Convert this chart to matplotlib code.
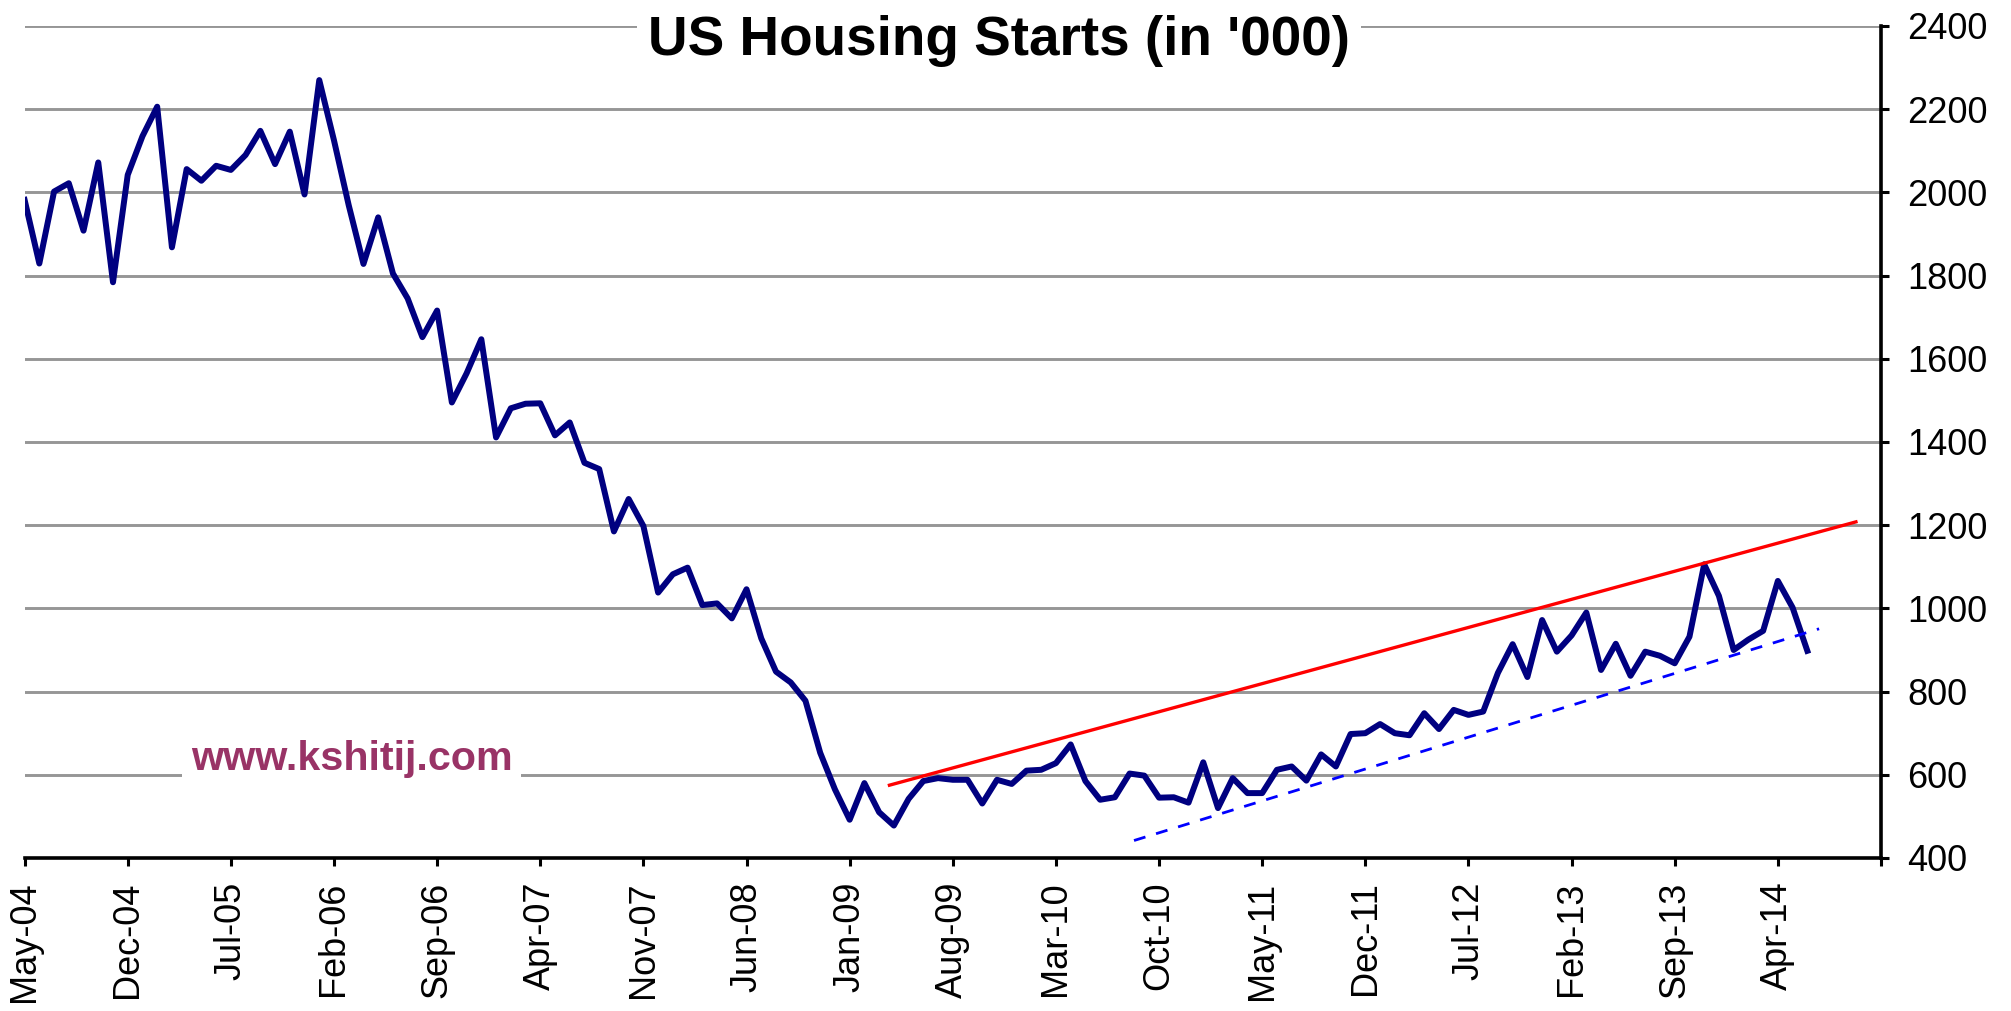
import numpy as np
import pandas as pd
import matplotlib
matplotlib.use("Agg")
import matplotlib.pyplot as plt

# US housing starts ('000, SAAR), monthly May-04 .. Jun-14
starts = [
    1982, 1829, 2002, 2022, 1908, 2072, 1784, 2042, 2135, 2206,   # May-04 .. Feb-05
    1868, 2056, 2028, 2064, 2054, 2090, 2148, 2068, 2146, 1995,   # Mar-05 .. Dec-05
    2270, 2125, 1969, 1828, 1940, 1805, 1745, 1652, 1716, 1495,   # Jan-06 .. Oct-06
    1565, 1647, 1411, 1481, 1492, 1493, 1416, 1447, 1350, 1335,   # Nov-06 .. Aug-07
    1185, 1263, 1198, 1038, 1082, 1098, 1008, 1012, 976, 1046,    # Sep-07 .. Jun-08
    928, 848, 822, 778, 653, 565, 492, 580, 510, 478,             # Jul-08 .. Apr-09
    542, 585, 592, 588, 588, 531, 588, 578, 610, 612,             # May-09 .. Feb-10
    628, 673, 585, 540, 546, 603, 598, 545, 546, 533,             # Mar-10 .. Dec-10
    630, 520, 592, 556, 556, 612, 620, 586, 649, 620,             # Jan-11 .. Oct-11
    698, 700, 722, 700, 695, 748, 710, 756, 744, 752,             # Nov-11 .. Aug-12
    845, 914, 835, 972, 896, 935, 990, 852, 915, 838,             # Sep-12 .. Jun-13
    896, 886, 868, 932, 1106, 1030, 900, 925, 946, 1066,          # Jul-13 .. Apr-14
    1002, 898,                                                    # May-14 .. Jun-14
]

# category axis runs one label step past the data (to Nov-14)
months = pd.date_range("2004-05-01", periods=127, freq="MS")
month_labels = [d.strftime("%b-%y") for d in months]
label_step = 7

# hand drawn trend lines (month index from May-04, value)
resistance_x = [58.7, 124.3]
resistance_y = [575, 1208]
support_x = [75.3, 121.8]
support_y = [442, 951]

y_ticks = list(range(400, 2401, 200))

plt.rcParams['font.family'] = ['Liberation Sans', 'DejaVu Sans']

fig = plt.figure(figsize=(20.11, 10.11), dpi=100)
ax = fig.add_axes([0.01223, 0.15134, 0.92312, 0.82295])

x = np.arange(len(starts))
ax.plot(x, starts, color='#000080', lw=4.3, zorder=3)
ax.plot(resistance_x, resistance_y, color='#ff0000', lw=2.4, zorder=4)
ax.plot(support_x, support_y, color='#0000ff', lw=2.0, dashes=(4.3, 4), zorder=4)

ax.set_xlim(0, len(months) - 1)
ax.set_ylim(y_ticks[0], y_ticks[-1])
ax.set_yticks(y_ticks)
ax.yaxis.tick_right()

tick_pos = list(range(0, len(months), label_step))
ax.set_xticks(tick_pos)
ax.set_xticklabels([month_labels[i] if i < len(starts) else '' for i in tick_pos])

ax.grid(axis='y', color='#969696', lw=2.1)
ax.set_axisbelow(True)
for s in ['left', 'top']:
    ax.spines[s].set_visible(False)
for s in ['bottom', 'right']:
    ax.spines[s].set_linewidth(2.6)
    ax.spines[s].set_color('black')

ax.tick_params(axis='y', labelsize=26, length=6, width=2.2, pad=13, direction='out')
ax.tick_params(axis='x', labelsize=26, length=6, width=2.2, pad=11, direction='out',
               labelrotation=90)

fig.text(0.497, 1 - 55 / 1011, "US Housing Starts (in '000)", ha='center', va='baseline',
         fontsize=39.5, fontweight='bold', color='black',
         bbox=dict(facecolor='white', edgecolor='none', pad=8))

ax.text(0.1761, 0.1058, 'www.kshitij.com', transform=ax.transAxes, ha='center',
        va='baseline', fontsize=29.7, fontweight='bold', color='#993366', zorder=2.5,
        bbox=dict(facecolor='white', edgecolor='none', pad=6))

fig.savefig('out.png', dpi=100, facecolor='white')
